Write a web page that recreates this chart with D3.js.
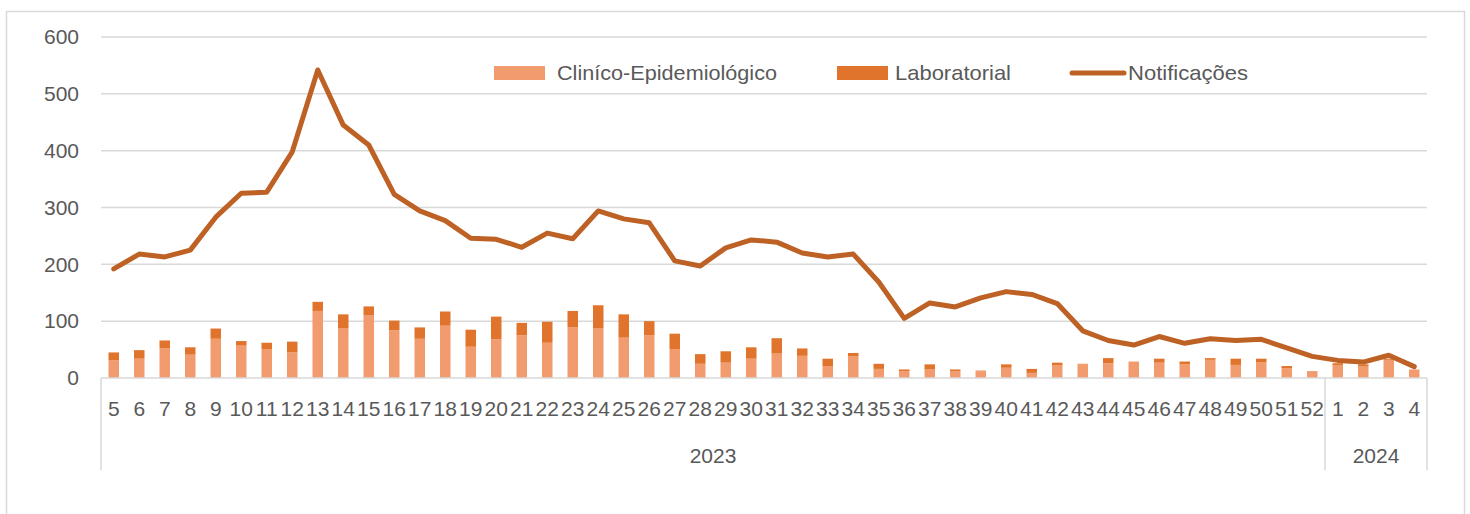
<!DOCTYPE html>
<html>
<head>
<meta charset="utf-8">
<script src="https://cdn.jsdelivr.net/npm/d3@7"></script>
<style>
	body { margin: 0; background: #fff; }
	svg text { font-family: "Liberation Sans", Arial, sans-serif; fill: #595959; }
</style>
</head>
<body>
<div id="chart"></div>
<script>
// semanas epidemiológicas (2023: 5-52, 2024: 1-4)
const weeks = [
	"5", "6", "7", "8", "9", "10", "11", "12", "13", "14", "15", "16", "17", "18", "19", "20",
	"21", "22", "23", "24", "25", "26", "27", "28", "29", "30", "31", "32", "33", "34", "35", "36",
	"37", "38", "39", "40", "41", "42", "43", "44", "45", "46", "47", "48", "49", "50", "51", "52",
	"1", "2", "3", "4",
];
const years = [
	{ label: "2023", count: 48 },
	{ label: "2024", count: 4 },
];

const clinico = [
	31, 34, 52, 41, 69, 57, 51, 45, 118, 87, 110, 84, 69, 92, 55, 68,
	75, 62, 89, 87, 71, 75, 51, 25, 27, 34, 43, 39, 21, 38, 16, 12,
	15, 12, 12, 18, 9, 22, 24, 26, 29, 27, 24, 32, 23, 28, 17, 11,
	22, 21, 32, 15,
];
const laboratorial = [
	14, 15, 14, 13, 18, 8, 11, 19, 16, 25, 16, 17, 20, 25, 30, 40,
	22, 37, 29, 41, 41, 25, 27, 17, 20, 20, 27, 13, 13, 6, 9, 3,
	9, 3, 1, 6, 7, 5, 1, 9, 0, 7, 5, 3, 11, 6, 4, 1,
	4, 3, 2, 0,
];
const notificacoes = [
	192, 218, 213, 225, 283, 325, 327, 398, 542, 445, 410, 323, 294, 277, 246, 244,
	230, 255, 245, 294, 280, 273, 206, 197, 229, 243, 239, 220, 213, 218, 169, 105,
	132, 125, 141, 152, 147, 131, 83, 66, 58, 73, 61, 69, 66, 68, 53, 38,
	31, 28, 40, 20,
];

const yTicks = [0, 100, 200, 300, 400, 500, 600];

const width = 1470;
const height = 514;
const margin = { left: 101, right: 43, top: 37, bottom: 136 };

const clinicoColor = "#f19b6f";
const labColor = "#e0742c";
const lineColor = "#bd6125";
const gridColor = "#d9d9d9";

const svg = d3
	.select("#chart")
	.append("svg")
	.attr("width", width)
	.attr("height", height);

// moldura do gráfico
svg
	.append("rect")
	.attr("x", 6.5)
	.attr("y", 11.5)
	.attr("width", 1458)
	.attr("height", 520)
	.attr("fill", "none")
	.attr("stroke", gridColor)
	.attr("stroke-width", 1.5);

const xStep = (width - margin.left - margin.right) / weeks.length;
const xCenter = (i) => margin.left + xStep * (i + 0.5);

const y = d3
	.scaleLinear()
	.domain([0, 600])
	.range([height - margin.bottom, margin.top]);

// linhas de grade
svg
	.append("g")
	.selectAll("line")
	.data(yTicks.filter((d) => d > 0))
	.join("line")
	.attr("x1", margin.left)
	.attr("x2", width - margin.right)
	.attr("y1", (d) => y(d))
	.attr("y2", (d) => y(d))
	.attr("stroke", gridColor)
	.attr("stroke-width", 1.5);

// eixo y
const yAxis = svg
	.append("g")
	.attr("transform", `translate(${margin.left - 22},0)`)
	.call(d3.axisLeft(y).tickValues(yTicks).tickSize(0).tickPadding(0));
yAxis.select(".domain").remove();
yAxis.selectAll("text").style("font-size", "21px").attr("fill", "#595959");

// barras empilhadas
const stackData = weeks.map((w, i) => ({ i, clinico: clinico[i], laboratorial: laboratorial[i] }));
const series = d3.stack().keys(["clinico", "laboratorial"])(stackData);
const colors = { clinico: clinicoColor, laboratorial: labColor };

svg
	.append("g")
	.selectAll("g")
	.data(series)
	.join("g")
	.attr("fill", (s) => colors[s.key])
	.selectAll("rect")
	.data((s) => s)
	.join("rect")
	.attr("x", (d) => xCenter(d.data.i) - 5.25)
	.attr("width", 10.5)
	.attr("y", (d) => y(d[1]))
	.attr("height", (d) => y(d[0]) - y(d[1]));

// linha de notificações
const line = d3
	.line()
	.x((d, i) => xCenter(i))
	.y((d) => y(d));

svg
	.append("path")
	.datum(notificacoes)
	.attr("d", line)
	.attr("fill", "none")
	.attr("stroke", lineColor)
	.attr("stroke-width", 5)
	.attr("stroke-linejoin", "round")
	.attr("stroke-linecap", "round");

// eixo x (semanas + anos)
const baseY = y(0);
svg
	.append("line")
	.attr("x1", margin.left)
	.attr("x2", width - margin.right)
	.attr("y1", baseY)
	.attr("y2", baseY)
	.attr("stroke", gridColor)
	.attr("stroke-width", 1.5);

svg
	.append("g")
	.selectAll("text")
	.data(weeks)
	.join("text")
	.attr("x", (d, i) => xCenter(i))
	.attr("y", 416)
	.attr("text-anchor", "middle")
	.style("font-size", "21px")
	.text((d) => d);

let start = 0;
const bounds = [0];
years.forEach((yr) => {
	start += yr.count;
	bounds.push(start);
});

svg
	.append("g")
	.selectAll("line")
	.data(bounds)
	.join("line")
	.attr("x1", (d) => margin.left + xStep * d)
	.attr("x2", (d) => margin.left + xStep * d)
	.attr("y1", baseY)
	.attr("y2", 470)
	.attr("stroke", gridColor)
	.attr("stroke-width", 1.5);

svg
	.append("g")
	.selectAll("text")
	.data(years)
	.join("text")
	.attr("x", (d, i) => margin.left + xStep * (bounds[i] + d.count / 2))
	.attr("y", 463)
	.attr("text-anchor", "middle")
	.style("font-size", "21px")
	.text((d) => d.label);

// legenda
const legend = svg.append("g").attr("transform", "translate(0,73)");
const legendItems = [
	{ label: "Clin\u00edco-Epidemiológico", type: "rect", color: clinicoColor, x: 494, tx: 63, len: 220 },
	{ label: "Laboratorial", type: "rect", color: labColor, x: 837, tx: 58, len: 116 },
	{ label: "Notificações", type: "line", color: lineColor, x: 1070, tx: 58, len: 120 },
];
legendItems.forEach((item) => {
	const g = legend.append("g").attr("transform", `translate(${item.x},0)`);
	if (item.type === "rect") {
		g.append("rect")
			.attr("y", -7)
			.attr("width", 51)
			.attr("height", 14)
			.attr("fill", item.color);
	} else {
		g.append("line")
			.attr("x1", 2)
			.attr("x2", 54)
			.attr("stroke", item.color)
			.attr("stroke-width", 5)
			.attr("stroke-linecap", "round");
	}
	g.append("text")
		.attr("x", item.tx)
		.attr("dy", "0.35em")
		.attr("textLength", item.len)
		.attr("lengthAdjust", "spacingAndGlyphs")
		.style("font-size", "21px")
		.text(item.label);
});
</script>
</body>
</html>
